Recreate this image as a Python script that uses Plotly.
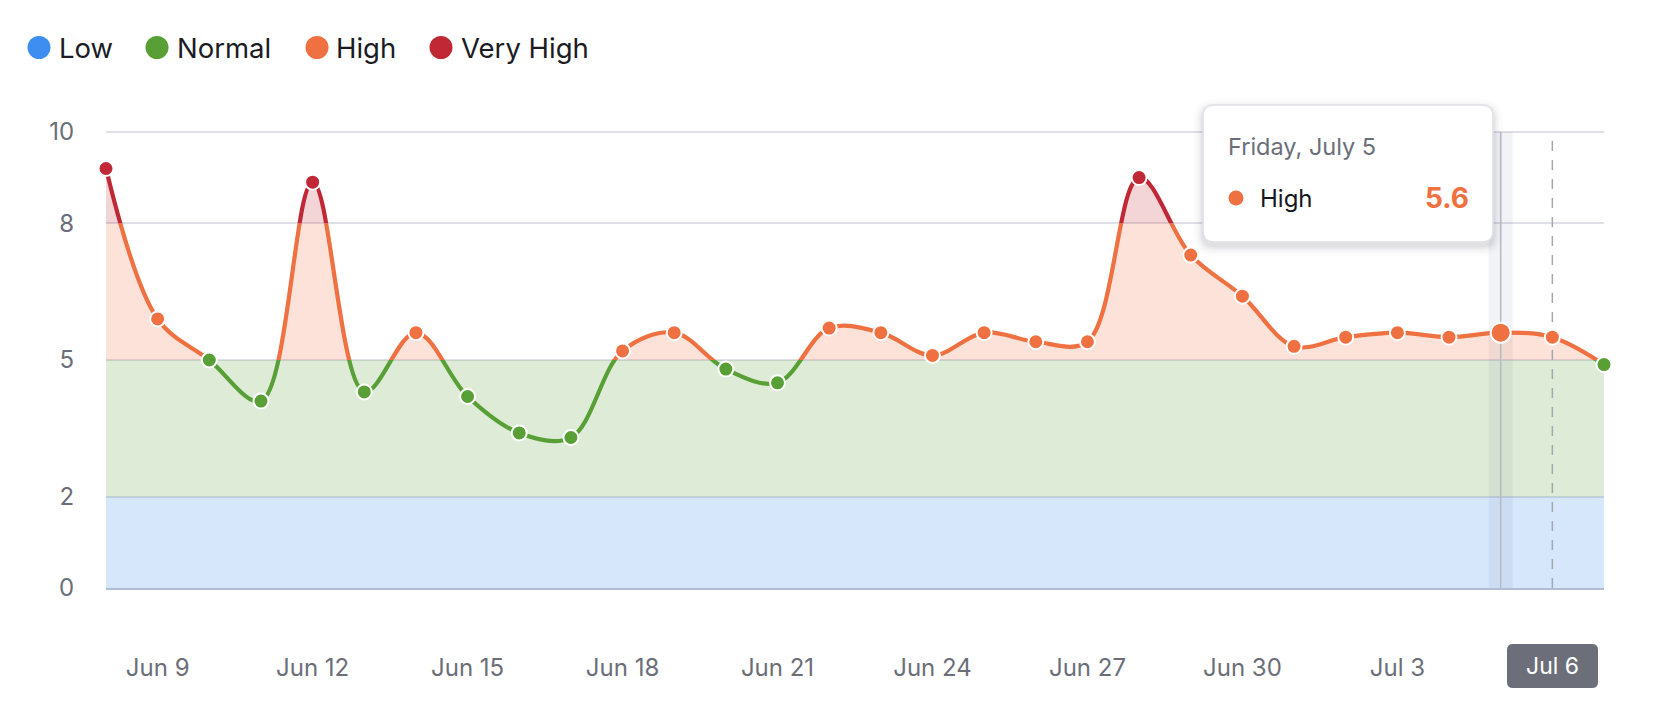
import plotly.graph_objects as go

# ---------------- data ----------------
dates = ["2024-06-08", "2024-06-09", "2024-06-10", "2024-06-11", "2024-06-12",
         "2024-06-13", "2024-06-14", "2024-06-15", "2024-06-16", "2024-06-17",
         "2024-06-18", "2024-06-19", "2024-06-20", "2024-06-21", "2024-06-22",
         "2024-06-23", "2024-06-24", "2024-06-25", "2024-06-26", "2024-06-27",
         "2024-06-28", "2024-06-29", "2024-06-30", "2024-07-01", "2024-07-02",
         "2024-07-03", "2024-07-04", "2024-07-05", "2024-07-06", "2024-07-07"]
values = [9.2, 5.9, 5.0, 4.1, 8.9, 4.3, 5.6, 4.2, 3.4, 3.3,
          5.2, 5.6, 4.8, 4.5, 5.7, 5.6, 5.1, 5.6, 5.4, 5.4,
          9.0, 7.3, 6.4, 5.3, 5.5, 5.6, 5.5, 5.6, 5.5, 4.9]

zone_names = ["Low", "Normal", "High", "Very High"]
zone_edges = [0, 2, 5, 8, 10]
zone_colors = ["#3d8ef0", "#58a036", "#ef7040", "#c12835"]
zone_fills = ["rgba(61,142,240,0.21)", "rgba(88,160,54,0.2)",
              "rgba(239,112,64,0.2)", "rgba(193,40,53,0.2)"]

x_tick_dates = ["2024-06-09", "2024-06-12", "2024-06-15", "2024-06-18", "2024-06-21",
                "2024-06-24", "2024-06-27", "2024-06-30", "2024-07-03"]
y_ticks = [0, 2, 5, 8, 10]

hover_date = "2024-07-05"
hover_value = 5.6
hover_title = "Friday, July 5"
today_date = "2024-07-06"
today_label = "Jul 6"

# ---------------- layout geometry ----------------
W, H = 1656, 724
ML, MR, MT, MB = 106, 52, 130, 136
PW, PH = W - ML - MR, H - MT - MB
FONT = "Inter"
GREY = "#6b6e78"


def px(xp):
    return (xp - ML) / PW


def py(yp):
    return (H - MB - yp) / PH


def rrect(x0, y0, x1, y1, r):
    pts = [("M", x0 + r, y0), ("L", x1 - r, y0), ("Q", x1, y0, x1, y0 + r),
           ("L", x1, y1 - r), ("Q", x1, y1, x1 - r, y1), ("L", x0 + r, y1),
           ("Q", x0, y1, x0, y1 - r), ("L", x0, y0 + r), ("Q", x0, y0, x0 + r, y0)]
    out = []
    for p in pts:
        cmd = p[0]
        coords = p[1:]
        pairs = []
        for i in range(0, len(coords), 2):
            pairs.append(f"{px(coords[i]):.6f},{py(coords[i + 1]):.6f}")
        out.append(cmd + " " + " ".join(pairs))
    return " ".join(out) + " Z"


def zone_of(v):
    for k in range(len(zone_names)):
        if v <= zone_edges[k + 1]:
            return k
    return len(zone_names) - 1


ymax = zone_edges[-1]
# leave 2px above the top tick so plotly keeps its gridline
ytop = ymax * PH / (PH - 2)
fig = go.Figure()

# main subplot: full-width Low / Normal bands (over the gridlines, translucent)
for k in range(2):
    lo, hi = zone_edges[k], zone_edges[k + 1]
    fig.add_trace(go.Scatter(x=[dates[0], dates[-1], dates[-1], dates[0], dates[0]],
                             y=[lo, lo, hi, hi, lo], mode="lines", line=dict(width=0),
                             fill="toself", fillcolor=zone_fills[k],
                             hoverinfo="skip", showlegend=False, xaxis="x", yaxis="y"))
# hover band
fig.add_trace(go.Scatter(x=[hover_date, hover_date], y=[0, ymax], mode="lines",
                         line=dict(color="rgba(110,120,150,0.09)", width=24),
                         hoverinfo="skip", showlegend=False, xaxis="x", yaxis="y"))

layout_axes = {}
# zone subplots (each clips the spline to its band)
for k, name in enumerate(zone_names):
    lo, hi = zone_edges[k], zone_edges[k + 1]
    top_v = ytop if k == len(zone_names) - 1 else hi
    axname = f"yaxis{k + 2}"
    yref = f"y{k + 2}"
    layout_axes[axname] = dict(domain=[lo / ytop, top_v / ytop], range=[lo, top_v], anchor="x",
                               visible=False, showgrid=False, zeroline=False, fixedrange=True)
    if k >= 2:
        fig.add_trace(go.Scatter(x=dates, y=values, mode="lines",
                                 line=dict(shape="spline", width=0, color=zone_colors[k]),
                                 fill="tozeroy", fillcolor=zone_fills[k],
                                 hoverinfo="skip", showlegend=False, xaxis="x", yaxis=yref))
    fig.add_trace(go.Scatter(x=dates, y=values, mode="lines",
                             line=dict(shape="spline", width=4.2, color=zone_colors[k]),
                             hoverinfo="skip", showlegend=False, xaxis="x", yaxis=yref))

# top subplot: crosshair lines + markers
top = f"y{len(zone_names) + 2}"
layout_axes[f"yaxis{len(zone_names) + 2}"] = dict(domain=[0, 1], range=[0, ytop], anchor="x",
                                                  visible=False, showgrid=False, zeroline=False)
fig.add_trace(go.Scatter(x=[hover_date, hover_date], y=[0, ymax], mode="lines",
                         line=dict(color="#b6b9c4", width=1.5),
                         hoverinfo="skip", showlegend=False, xaxis="x", yaxis=top))
fig.add_trace(go.Scatter(x=[today_date, today_date], y=[0, ymax], mode="lines",
                         line=dict(color="#a4a7b1", width=1.5, dash="10px,9px"),
                         hoverinfo="skip", showlegend=False, xaxis="x", yaxis=top))
mcolors = [zone_colors[zone_of(v)] for v in values]
msizes = [20 if d == hover_date else 15 for d in dates]
fig.add_trace(go.Scatter(x=dates, y=values, mode="markers", cliponaxis=False,
                         marker=dict(color=mcolors, size=msizes, opacity=1,
                                     line=dict(color="white", width=2)),
                         hovertemplate="%{x|%A, %B %-d}<br>%{y}<extra></extra>",
                         showlegend=False, xaxis="x", yaxis=top))

shapes = []
# tooltip box with soft shadow
tx0, ty0, tx1, ty1 = 1203, 105, 1493, 242
for g, a in [(10, 0.012), (7, 0.018), (5, 0.022), (3, 0.03), (1.5, 0.04)]:
    shapes.append(dict(type="path", xref="paper", yref="paper", layer="above",
                       path=rrect(tx0 - g, ty0 - g + 4, tx1 + g, ty1 + g + 4, 11 + g),
                       fillcolor=f"rgba(20,20,40,{a})", line=dict(width=0)))
shapes.append(dict(type="path", xref="paper", yref="paper", layer="above",
                   path=rrect(tx0, ty0, tx1, ty1, 11), fillcolor="white",
                   line=dict(color="#e0e0e8", width=1.5)))
shapes.append(dict(type="circle", xref="paper", yref="paper", layer="above",
                   xsizemode="pixel", ysizemode="pixel", xanchor=px(1236), yanchor=py(198),
                   x0=-7.5, x1=7.5, y0=-7.5, y1=7.5,
                   fillcolor=zone_colors[zone_of(hover_value)], line=dict(width=0)))

# today label box
shapes.append(dict(type="path", xref="paper", yref="paper", layer="above",
                   path=rrect(1507, 644, 1598, 688, 6), fillcolor="#6c6f79",
                   line=dict(width=0)))

# legend dots
legend_dot_x = [39, 157, 317, 441]
legend_txt_x = [57, 175, 334, 459]
LEG_Y = 47.5
for k in range(len(zone_names)):
    shapes.append(dict(type="circle", xref="paper", yref="paper",
                       xsizemode="pixel", ysizemode="pixel",
                       xanchor=px(legend_dot_x[k]), yanchor=py(LEG_Y),
                       x0=-11.5, x1=11.5, y0=-11.5, y1=11.5,
                       fillcolor=zone_colors[k], line=dict(width=0)))

annotations = []
for k, name in enumerate(zone_names):
    annotations.append(dict(x=px(legend_txt_x[k]), y=py(LEG_Y + 1), xref="paper", yref="paper",
                            text=name, showarrow=False, xanchor="left", yanchor="middle",
                            font=dict(family=FONT, size=27.5, color="#1b1b24")))
annotations.append(dict(x=px(1226), y=py(146), xref="paper", yref="paper", text=hover_title,
                        showarrow=False, xanchor="left", yanchor="middle",
                        font=dict(family=FONT, size=23.5, color=GREY)))
annotations.append(dict(x=px(1258), y=py(198), xref="paper", yref="paper",
                        text=zone_names[zone_of(hover_value)],
                        showarrow=False, xanchor="left", yanchor="middle",
                        font=dict(family=FONT, size=24, color="#16161e")))
annotations.append(dict(x=px(1471), y=py(198), xref="paper", yref="paper",
                        text=f"<b>{hover_value}</b>",
                        showarrow=False, xanchor="right", yanchor="middle",
                        font=dict(family=FONT, size=28, color=zone_colors[zone_of(hover_value)])))
annotations.append(dict(x=today_date, y=py(666), xref="x", yref="paper", text=today_label,
                        showarrow=False, xanchor="center", yanchor="middle",
                        font=dict(family=FONT, size=23, color="white")))

fig.update_layout(
    width=W, height=H,
    margin=dict(l=ML, r=MR, t=MT, b=MB, pad=0),
    paper_bgcolor="white", plot_bgcolor="rgba(0,0,0,0)",
    showlegend=False,
    xaxis=dict(type="date", range=[dates[0], dates[-1]], domain=[0, 1], anchor="y",
               tickvals=x_tick_dates, tickformat="%b %-d",
               ticks="outside", ticklen=57, tickcolor="rgba(0,0,0,0)",
               tickfont=dict(family=FONT, size=24, color=GREY),
               showgrid=False, zeroline=False,
               showline=True, linecolor="#aebdd4", linewidth=1.5),
    yaxis=dict(domain=[0, 1], range=[0, ytop], anchor="x",
               tickvals=y_ticks, ticks="outside", ticklen=26, tickcolor="rgba(0,0,0,0)",
               tickfont=dict(family=FONT, size=24, color=GREY),
               showgrid=True, gridcolor="#dfdfe8", gridwidth=1.5,
               zeroline=False, showline=False),
    shapes=shapes,
    annotations=annotations,
    hovermode="closest",
    **layout_axes,
)

fig.write_html("out.html")
